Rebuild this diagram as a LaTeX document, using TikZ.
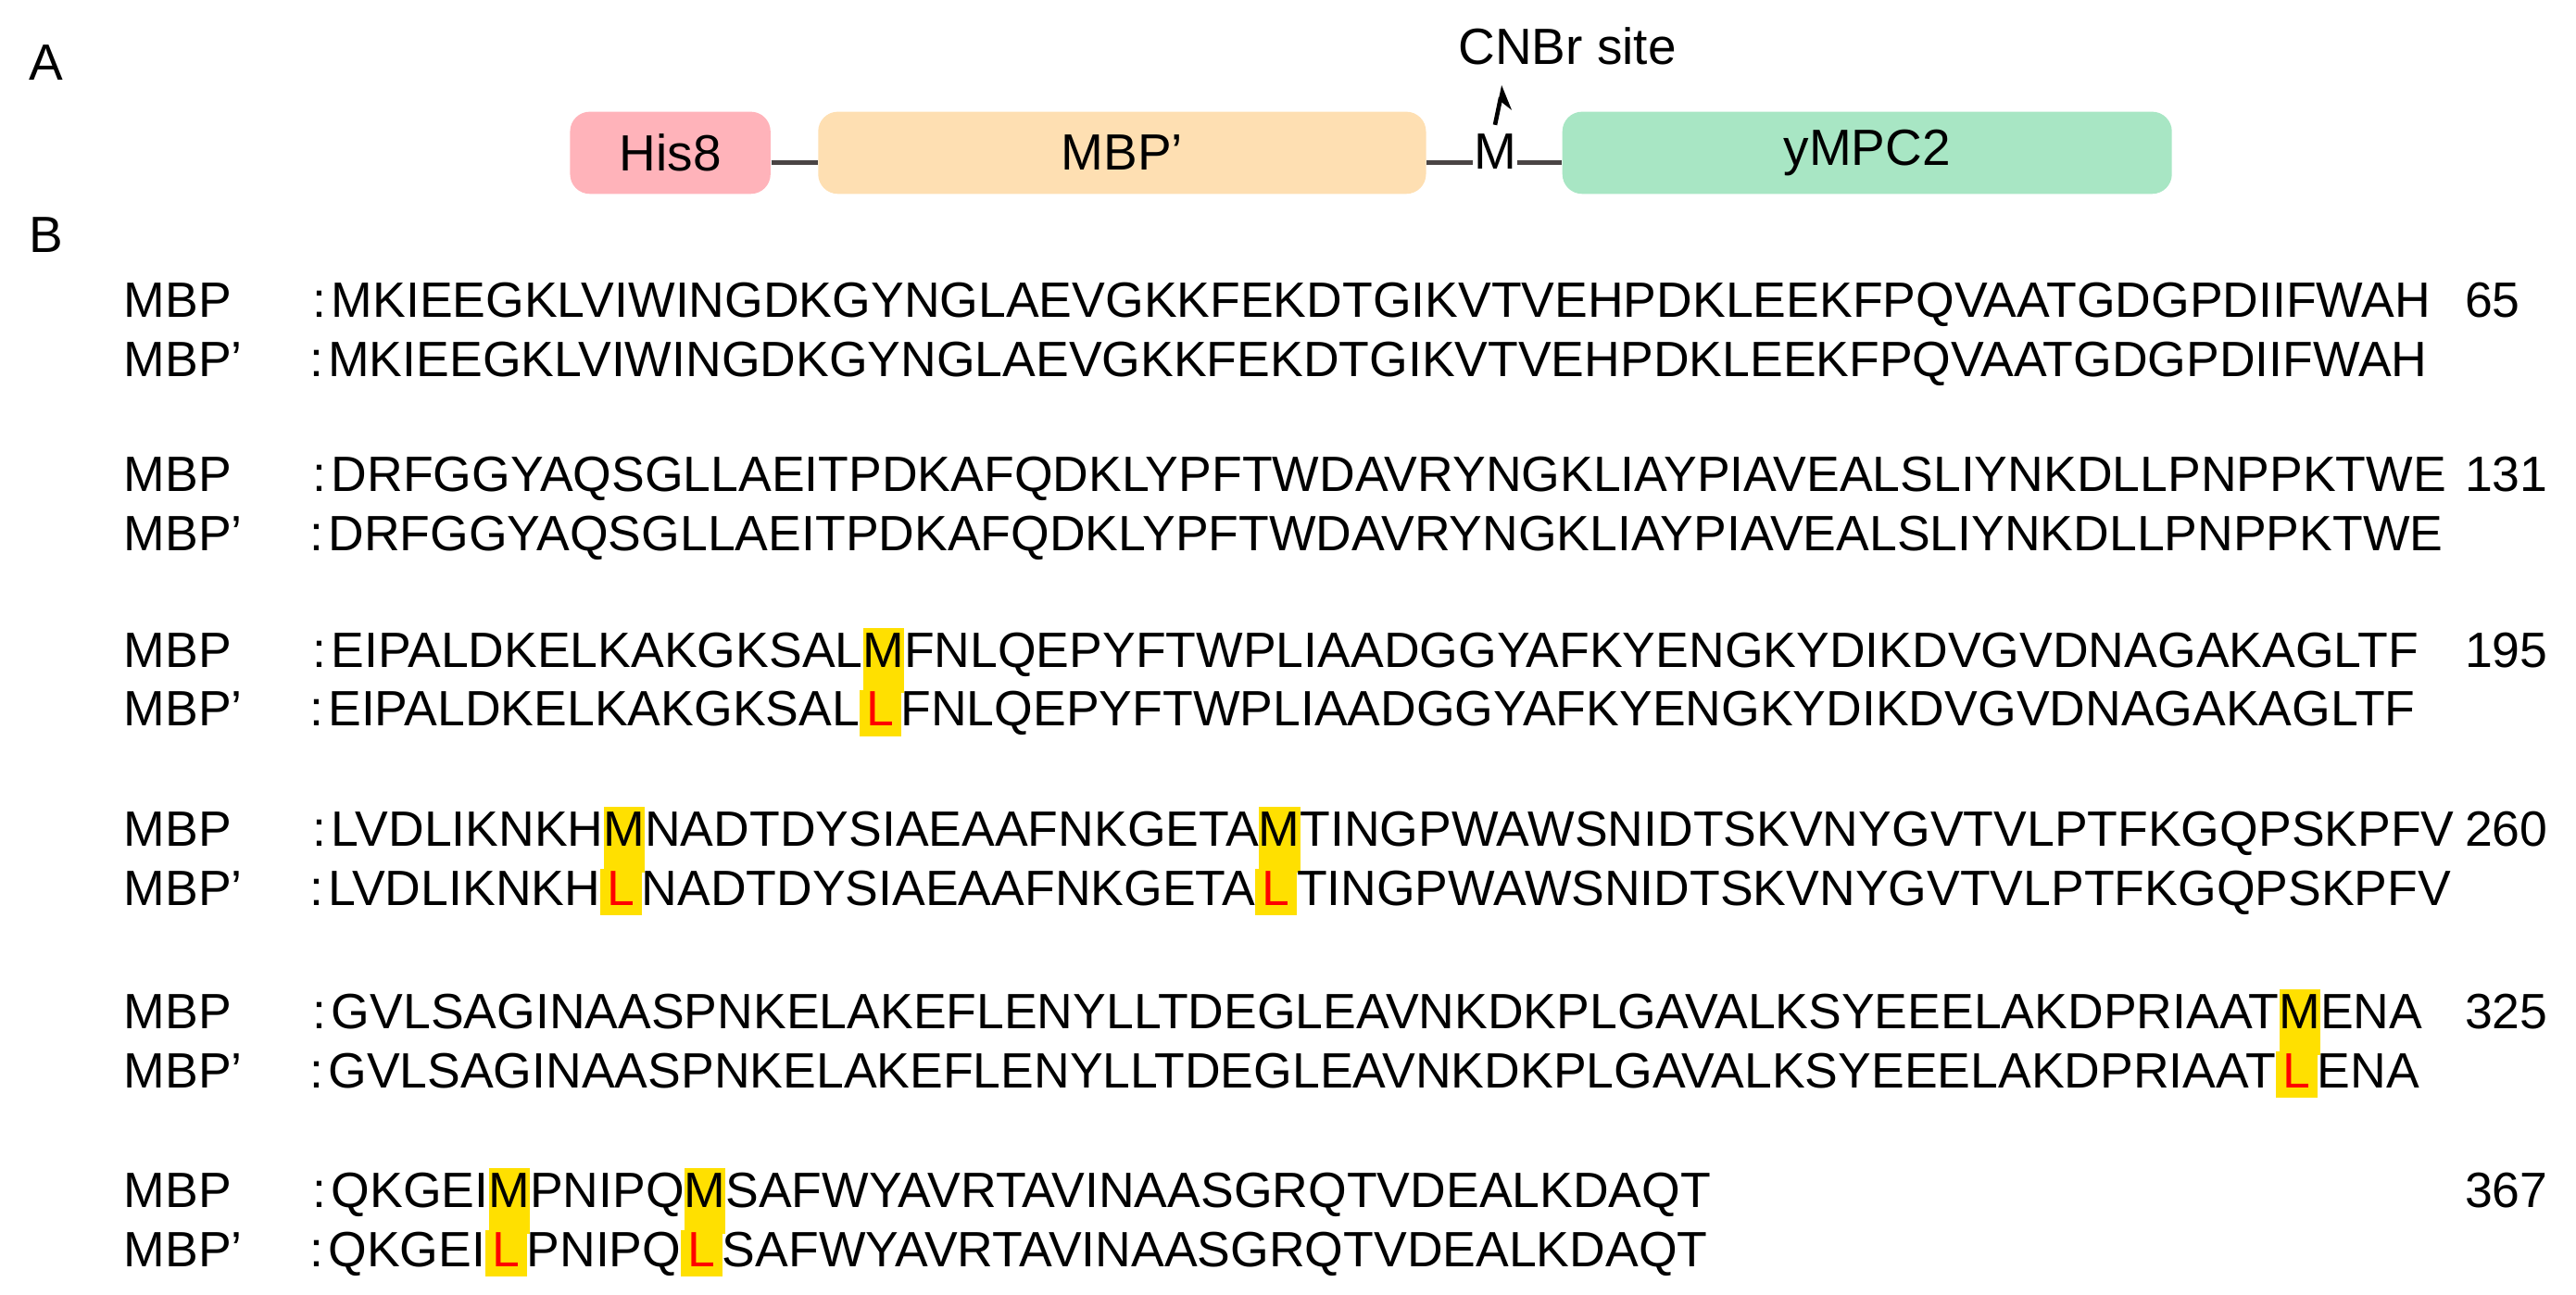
\documentclass[tikz,border=0pt]{standalone}
\usepackage{fontspec}
\setmainfont{Liberation Sans}
\usetikzlibrary{arrows.meta}
\definecolor{hispink}{HTML}{FFB3BA}
\definecolor{mbporange}{HTML}{FEDFB2}
\definecolor{mpcgreen}{HTML}{A8E6C4}
\definecolor{hlyellow}{HTML}{FFE000}
\definecolor{linegray}{HTML}{4A4444}
\setlength{\fboxsep}{0pt}
\newcommand{\hm}{\colorbox{hlyellow}{\rule[-8pt]{0pt}{20pt}M}}
\newcommand{\hL}{\colorbox{hlyellow}{\rule[-3pt]{0pt}{14pt}\makebox[\fontcharwd\font`M][c]{\color{red}L}}}
\newcommand{\cl}{:\kern1.5pt}
\tikzset{
  txt/.style={inner sep=0pt, font=\fontsize{15.5}{18}\selectfont},
  seq/.style={inner sep=0pt, anchor=base west, font=\fontsize{15.1}{18}\selectfont},
  dom/.style={rounded corners=6pt, draw=none, inner sep=0pt, minimum height=25pt, txt},
  link/.style={draw=linegray, line width=1.2pt}
}
\begin{document}
\begin{tikzpicture}[x=0.5pt,y=-0.5pt]
\useasboundingbox (0,0) rectangle (1568,788);
% panel A
\node[txt] (A) at (28,38) {A};
\node[txt] (B) at (28,143) {B};
\node[dom, fill=hispink, minimum width=61pt] (his) at (408,93) {His8};
\node[dom, fill=mbporange, minimum width=185pt] (mbp) at (683,93) {MBP’};
\node[dom, fill=mpcgreen, minimum width=185.5pt] (mpc) at (1136.5,93) {yMPC2};
\node[txt] (M) at (910,92) {M};
\node[txt] (cnbr) at (954,28) {CNBr site};
\coordinate (a0) at (910,76);
\coordinate (a1) at (915,52);
\draw[link] (his.east |- 0,99) -- (mbp.west |- 0,99);
\draw[link] (mbp.east |- 0,99) -- (M.west |- 0,99);
\draw[link] (M.east |- 0,99) -- (mpc.west |- 0,99);
\draw[line width=1.3pt, -{Stealth[right, length=6pt, width=8pt]}] (a0) -- (a1);
% panel B
\foreach \yy/\n [count=\i] in {193/65, 299/131, 406/195, 515/260, 626/325, 735/367} {
  \node[seq] (l\i a) at (75,\yy) {MBP};
  \node[seq] (l\i b) at (75,\yy+36) {MBP’};
  \node[seq] (n\i) at (1500,\yy) {\n};
}
\node[seq] (s1a) at (190,193) {\cl MKIEEGKLVIWINGDKGYNGLAEVGKKFEKDTGIKVTVEHPDKLEEKFPQVAATGDGPDIIFWAH};
\node[seq] (s1b) at (188,229) {\cl MKIEEGKLVIWINGDKGYNGLAEVGKKFEKDTGIKVTVEHPDKLEEKFPQVAATGDGPDIIFWAH};
\node[seq] (s2a) at (190,299) {\cl DRFGGYAQSGLLAEITPDKAFQDKLYPFTWDAVRYNGKLIAYPIAVEALSLIYNKDLLPNPPKTWE};
\node[seq] (s2b) at (188,335) {\cl DRFGGYAQSGLLAEITPDKAFQDKLYPFTWDAVRYNGKLIAYPIAVEALSLIYNKDLLPNPPKTWE};
\node[seq] (s3a) at (190,406) {\cl EIPALDKELKAKGKSAL\hm FNLQEPYFTWPLIAADGGYAFKYENGKYDIKDVGVDNAGAKAGLTF};
\node[seq] (s3b) at (188,442) {\cl EIPALDKELKAKGKSAL\hL FNLQEPYFTWPLIAADGGYAFKYENGKYDIKDVGVDNAGAKAGLTF};
\node[seq] (s4a) at (190,515) {\cl LVDLIKNKH\hm NADTDYSIAEAAFNKGETA\hm TINGPWAWSNIDTSKVNYGVTVLPTFKGQPSKPFV};
\node[seq] (s4b) at (188,551) {\cl LVDLIKNKH\hL NADTDYSIAEAAFNKGETA\hL TINGPWAWSNIDTSKVNYGVTVLPTFKGQPSKPFV};
\node[seq] (s5a) at (190,626) {\cl GVLSAGINAASPNKELAKEFLENYLLTDEGLEAVNKDKPLGAVALKSYEEELAKDPRIAAT\hm ENA};
\node[seq] (s5b) at (188,662) {\cl GVLSAGINAASPNKELAKEFLENYLLTDEGLEAVNKDKPLGAVALKSYEEELAKDPRIAAT\hL ENA};
\node[seq] (s6a) at (190,735) {\cl QKGEI\hm PNIPQ\hm SAFWYAVRTAVINAASGRQTVDEALKDAQT};
\node[seq] (s6b) at (188,771) {\cl QKGEI\hL PNIPQ\hL SAFWYAVRTAVINAASGRQTVDEALKDAQT};
\end{tikzpicture}
\end{document}
